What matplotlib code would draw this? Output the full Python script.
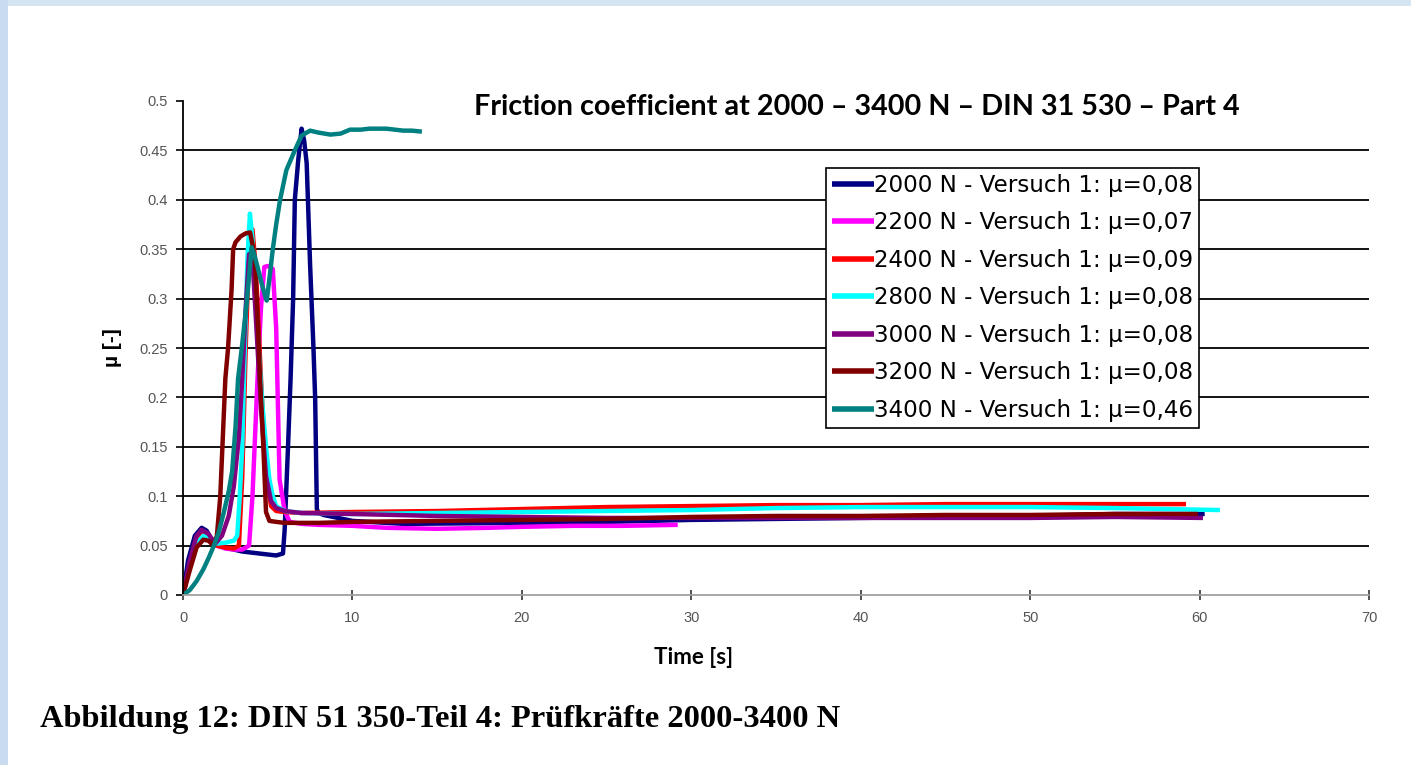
import matplotlib
matplotlib.use("Agg")
import matplotlib.pyplot as plt
from matplotlib.patches import Rectangle

# --- data (time in s, friction coefficient mu) ---
labels = [
    "2000 N - Versuch 1: \u00b5=0,08",
    "2200 N - Versuch 1: \u00b5=0,07",
    "2400 N - Versuch 1: \u00b5=0,09",
    "2800 N - Versuch 1: \u00b5=0,08",
    "3000 N - Versuch 1: \u00b5=0,08",
    "3200 N - Versuch 1: \u00b5=0,08",
    "3400 N - Versuch 1: \u00b5=0,46",
]
colors = ["#000080", "#ff00ff", "#ff0000", "#00ffff", "#800080", "#800000", "#008080"]

t_2000 = [0, 0.3, 0.7, 1.1, 1.4, 1.7, 2.0, 2.5, 3.0, 3.5, 4.0, 4.5, 5.0, 5.5, 5.9, 6.0, 6.2,
          6.35, 6.5, 6.6, 6.8, 7.0, 7.15, 7.3, 7.5, 7.7, 7.8, 7.9, 8.0, 8.3, 10, 13, 20, 25,
          30, 35, 40, 45, 50, 55, 60.3]
mu_2000 = [0, 0.035, 0.06, 0.068, 0.065, 0.055, 0.05, 0.048, 0.046, 0.044, 0.043, 0.042, 0.041,
           0.040, 0.042, 0.066, 0.151, 0.219, 0.30, 0.40, 0.44, 0.472, 0.46, 0.437, 0.335, 0.25,
           0.199, 0.087, 0.083, 0.081, 0.075, 0.072, 0.073, 0.074, 0.076, 0.077, 0.078, 0.079,
           0.080, 0.082, 0.082]

t_2200 = [0, 0.4, 0.8, 1.2, 1.6, 2.0, 2.5, 3.0, 3.5, 3.9, 4.1, 4.4, 4.6, 4.8, 5.0, 5.3, 5.5,
          5.7, 6.0, 6.3, 7, 8, 10, 12, 15, 18, 20, 23, 26, 29.2]
mu_2200 = [0, 0.03, 0.055, 0.063, 0.058, 0.05, 0.047, 0.046, 0.046, 0.05, 0.1, 0.219, 0.29,
           0.332, 0.333, 0.33, 0.27, 0.117, 0.085, 0.074, 0.072, 0.071, 0.07, 0.068, 0.067,
           0.068, 0.069, 0.07, 0.07, 0.071]

t_2400 = [0, 0.4, 0.8, 1.2, 1.6, 2.0, 2.5, 3.0, 3.3, 3.5, 3.7, 3.9, 4.1, 4.3, 4.6, 4.9, 5.2,
          5.5, 6, 7, 10, 15, 20, 25, 30, 35, 40, 45, 50, 55, 59.2]
mu_2400 = [0, 0.03, 0.055, 0.062, 0.057, 0.05, 0.048, 0.047, 0.05, 0.12, 0.25, 0.35, 0.37,
           0.33, 0.22, 0.12, 0.09, 0.085, 0.084, 0.083, 0.084, 0.085, 0.087, 0.089, 0.09,
           0.091, 0.091, 0.092, 0.092, 0.092, 0.092]

t_2800 = [0, 0.4, 0.8, 1.2, 1.6, 2.0, 2.5, 3.0, 3.2, 3.35, 3.5, 3.6, 3.7, 3.8, 3.95, 4.1, 4.3,
          4.5, 4.7, 4.9, 5.1, 5.3, 5.5, 6, 7, 10, 15, 20, 25, 30, 35, 40, 45, 50, 55, 61.2]
mu_2800 = [0, 0.03, 0.052, 0.06, 0.056, 0.052, 0.053, 0.055, 0.06, 0.1, 0.151, 0.22, 0.28,
           0.34, 0.386, 0.36, 0.30, 0.24, 0.19, 0.15, 0.117, 0.10, 0.09, 0.085, 0.083, 0.082,
           0.083, 0.084, 0.085, 0.086, 0.088, 0.089, 0.089, 0.089, 0.088, 0.086]

t_3000 = [0, 0.4, 0.8, 1.1, 1.5, 1.9, 2.3, 2.7, 3.0, 3.3, 3.5, 3.7, 3.9, 4.1, 4.3, 4.6, 4.9,
          5.2, 5.5, 6, 7, 10, 15, 20, 25, 30, 35, 40, 45, 50, 55, 60.2]
mu_3000 = [0, 0.035, 0.06, 0.066, 0.062, 0.052, 0.06, 0.08, 0.11, 0.16, 0.22, 0.29, 0.345,
           0.34, 0.28, 0.19, 0.12, 0.095, 0.088, 0.085, 0.083, 0.082, 0.080, 0.079, 0.078,
           0.078, 0.078, 0.078, 0.078, 0.078, 0.079, 0.078]

t_3200 = [0, 0.4, 0.8, 1.2, 1.5, 1.8, 2.0, 2.2, 2.5, 2.66, 2.87, 2.96, 3.1, 3.4, 3.7, 3.96,
          4.1, 4.25, 4.43, 4.55, 4.74, 4.9, 5.1, 5.5, 6, 8, 10, 15, 20, 25, 30, 35, 40, 45,
          50, 55, 59.9]
mu_3200 = [0, 0.025, 0.048, 0.056, 0.055, 0.05, 0.06, 0.1, 0.219, 0.25, 0.31, 0.35, 0.357,
           0.363, 0.366, 0.367, 0.355, 0.337, 0.27, 0.219, 0.151, 0.084, 0.075, 0.074, 0.073,
           0.073, 0.074, 0.075, 0.076, 0.077, 0.079, 0.080, 0.080, 0.081, 0.081, 0.082, 0.082]

t_3400 = [0, 0.4, 0.8, 1.2, 1.5, 1.8, 2.1, 2.4, 2.7, 2.9, 3.1, 3.25, 3.47, 3.76, 4.05, 4.2,
          4.43, 4.65, 4.84, 4.94, 5.1, 5.3, 5.5, 5.73, 6.1, 6.6, 7.0, 7.5, 8.0, 8.7, 9.3,
          9.86, 10.5, 11, 11.5, 12, 12.5, 13, 13.5, 14.1]
mu_3400 = [0, 0.005, 0.014, 0.026, 0.037, 0.049, 0.063, 0.083, 0.105, 0.125, 0.17, 0.219,
           0.25, 0.296, 0.352, 0.345, 0.33, 0.315, 0.303, 0.298, 0.32, 0.35, 0.375, 0.40,
           0.43, 0.45, 0.465, 0.47, 0.468, 0.466, 0.467, 0.471, 0.471, 0.472, 0.472, 0.472,
           0.471, 0.470, 0.470, 0.469]

times = [t_2000, t_2200, t_2400, t_2800, t_3000, t_3200, t_3400]
mus = [mu_2000, mu_2200, mu_2400, mu_2800, mu_3000, mu_3200, mu_3400]

xticks = [0, 10, 20, 30, 40, 50, 60, 70]
yticks = [0, 0.05, 0.1, 0.15, 0.2, 0.25, 0.3, 0.35, 0.4, 0.45, 0.5]
ytick_labels = ["0", "0.05", "0.1", "0.15", "0.2", "0.25", "0.3", "0.35", "0.4", "0.45", "0.5"]

title = "Friction coefficient at 2000 \u2013 3400 N \u2013 DIN 31 530 \u2013 Part 4"
caption = "Abbildung 12: DIN 51 350-Teil 4: Pr\u00fcfkr\u00e4fte 2000-3400 N"


def main():
    fig = plt.figure(figsize=(14.11, 7.65), dpi=100)
    fig.patch.set_facecolor("white")

    # light blue page border (top and left)
    fig.patches.append(Rectangle((0, 1 - 6 / 765), 1, 6 / 765, transform=fig.transFigure,
                                 facecolor="#d4e4f1", edgecolor="none", zorder=0))
    fig.patches.append(Rectangle((0, 0), 8 / 1411, 1, transform=fig.transFigure,
                                 facecolor="#c9dbef", edgecolor="none", zorder=0))

    ax = fig.add_axes([183 / 1411, 1 - 595 / 765, (1369 - 183) / 1411, (595 - 101) / 765])

    for t, mu, col, lab in zip(times, mus, colors, labels):
        ax.plot(t, mu, color=col, lw=3.2, label=lab, solid_capstyle="butt")

    ax.set_xlim(0, 70)
    ax.set_ylim(0, 0.5)
    ax.set_xticks(xticks)
    ax.set_yticks(yticks)
    ax.set_yticklabels(ytick_labels)

    # horizontal gridlines, none at 0 and at the top
    ax.grid(axis="y", color="black", lw=1.3)
    gl = ax.get_ygridlines()
    gl[0].set_visible(False)
    gl[-1].set_visible(False)
    ax.set_axisbelow(True)

    for s in ["top", "right"]:
        ax.spines[s].set_visible(False)
    ax.spines["left"].set_color("black")
    ax.spines["left"].set_linewidth(1.3)
    ax.spines["bottom"].set_color("#a0a0a0")
    ax.spines["bottom"].set_linewidth(1.3)

    ax.tick_params(axis="y", direction="out", length=5, width=1.2, color="black",
                   labelsize=10.5, labelcolor="#555555", pad=6)
    ax.tick_params(axis="x", direction="inout", length=7, width=1.2, color="#333333",
                   labelsize=10.5, labelcolor="#555555", pad=8)
    for lbl in ax.get_xticklabels() + ax.get_yticklabels():
        lbl.set_family("Liberation Sans")

    ax.set_ylabel("\u00b5 [-]", fontsize=15, fontweight="bold", family="Liberation Sans",
                  labelpad=12)

    fig.text(857 / 1411, 1 - 107 / 765, title, ha="center", va="center",
             fontsize=20.7, fontweight="bold", family="Lato")
    fig.text(694 / 1411, 1 - 657 / 765, "Time [s]", ha="center", va="center",
             fontsize=16, fontweight="bold", family="Lato")
    fig.text(40 / 1411, 1 - 719 / 765, caption, ha="left", va="center",
             fontsize=23.4, fontweight="bold", family="Liberation Serif")

    leg = ax.legend(loc="upper left", bbox_to_anchor=(826 / 1411, 1 - 168 / 765),
                    bbox_transform=fig.transFigure, frameon=True,
                    fancybox=False, edgecolor="black", framealpha=1, borderpad=0.25,
                    handlelength=1.85, handletextpad=0.0, labelspacing=0.63,
                    borderaxespad=0, prop={"family": "DejaVu Sans", "size": 16.6})
    leg.get_frame().set_linewidth(1.2)
    for line in leg.get_lines():
        line.set_linewidth(4)

    fig.savefig("out.png", dpi=100)


if __name__ == "__main__":
    main()
